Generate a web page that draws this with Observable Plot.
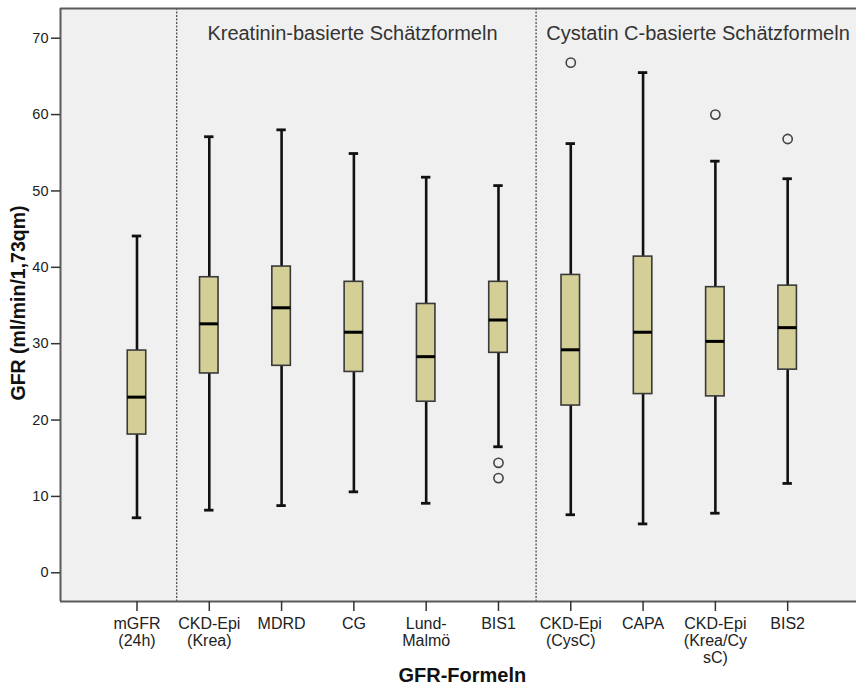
<!DOCTYPE html>
<html>
<head>
<meta charset="utf-8">
<script src="https://cdn.jsdelivr.net/npm/d3@7"></script>
<script src="https://cdn.jsdelivr.net/npm/@observablehq/plot@0.6"></script>
<style>
  html, body { margin: 0; padding: 0; background: #fff; overflow: hidden; }
  svg { display: block; }
</style>
</head>
<body>
<div id="chart"></div>
<script>
// ---- Data ----
const categories = ["mGFR\n(24h)", "CKD-Epi\n(Krea)", "MDRD", "CG", "Lund-\nMalmö", "BIS1", "CKD-Epi\n(CysC)", "CAPA", "CKD-Epi\n(Krea/Cy\nsC)", "BIS2"];
const whiskerLow  = [7.2, 8.2, 8.8, 10.6, 9.1, 16.5, 7.6, 6.4, 7.8, 11.7];
const q1          = [18.1, 26.1, 27.1, 26.3, 22.4, 28.8, 21.9, 23.4, 23.1, 26.6];
const median      = [23.0, 32.6, 34.7, 31.5, 28.3, 33.1, 29.2, 31.5, 30.3, 32.1];
const q3          = [29.1, 38.7, 40.1, 38.1, 35.2, 38.1, 39.0, 41.4, 37.4, 37.6];
const whiskerHigh = [44.1, 57.1, 58.0, 54.9, 51.8, 50.7, 56.2, 65.5, 53.9, 51.6];
const outlierCategory = [5, 5, 6, 8, 9];
const outlierValue    = [14.4, 12.4, 66.8, 60.0, 56.8];
const sectionLabels = ["Kreatinin-basierte Schätzformeln", "Cystatin C-basierte Schätzformeln"];
const sectionCenters = [2.98, 7.76];
const dividers = [0.55, 5.52];
const yTicks = [0, 10, 20, 30, 40, 50, 60, 70];
const xTitle = "GFR-Formeln";
const yTitle = "GFR (ml/min/1,73qm)";

// ---- Tables built from the arrays ----
const boxes = categories.map((c, i) => ({
  i, label: c, lo: whiskerLow[i], q1: q1[i], med: median[i], q3: q3[i], hi: whiskerHigh[i]
}));
const outliers = outlierCategory.map((c, k) => ({i: c, v: outlierValue[k]}));

const xDomain = [-1.058, 9.952];
const yDomain = [-3.76, 73.89];
const halfBox = 0.128;
const halfCap = 0.065;
const font = "'Liberation Sans', Arial, sans-serif";

const chart = Plot.plot({
  width: 856,
  height: 693,
  marginLeft: 60,
  marginRight: 0,
  marginTop: 8,
  marginBottom: 92,
  style: {fontFamily: font, background: "#fff", overflow: "visible"},
  x: {type: "linear", domain: xDomain, axis: null},
  y: {domain: yDomain, axis: null},
  marks: [
    Plot.frame({fill: "#f0f0f0"}),
    // section dividers
    Plot.ruleX(dividers, {stroke: "#222", strokeWidth: 1, strokeDasharray: "2,1.5"}),
    // section labels
    Plot.text(sectionLabels, {
      x: (d, k) => sectionCenters[k], text: d => d, frameAnchor: "top", lineAnchor: "top",
      textAnchor: "middle", dy: 17, fontSize: 20, fill: "#333", letterSpacing: "0.6px"
    }),
    // whiskers
    Plot.ruleX(boxes, {x: "i", y1: "lo", y2: "q1", stroke: "#111", strokeWidth: 2.6}),
    Plot.ruleX(boxes, {x: "i", y1: "q3", y2: "hi", stroke: "#111", strokeWidth: 2.6}),
    Plot.ruleY(boxes, {y: "lo", x1: d => d.i - halfCap, x2: d => d.i + halfCap, stroke: "#111", strokeWidth: 2.8}),
    Plot.ruleY(boxes, {y: "hi", x1: d => d.i - halfCap, x2: d => d.i + halfCap, stroke: "#111", strokeWidth: 2.8}),
    // boxes
    Plot.rect(boxes, {x1: d => d.i - halfBox, x2: d => d.i + halfBox, y1: "q1", y2: "q3",
      fill: "#d3cf96", stroke: "#3a3a3a", strokeWidth: 1.6}),
    // medians
    Plot.ruleY(boxes, {y: "med", x1: d => d.i - halfBox, x2: d => d.i + halfBox, stroke: "#000", strokeWidth: 3}),
    // outliers
    Plot.dot(outliers, {x: "i", y: "v", r: 4.6, stroke: "#444", strokeWidth: 1.6, fill: "none"}),
    // frame edges (right edge lies outside the picture)
    Plot.ruleY([yDomain[1]], {stroke: "#5a5a5a", strokeWidth: 2}),
    Plot.ruleY([yDomain[0]], {stroke: "#5a5a5a", strokeWidth: 2}),
    Plot.ruleX([xDomain[0]], {stroke: "#5a5a5a", strokeWidth: 2}),
    // axes
    Plot.axisY({ticks: yTicks, tickSize: 9, tickPadding: 3, fontSize: 14.5, fill: "#222", stroke: "#333", strokeWidth: 1.5, label: null}),
    Plot.axisX({ticks: d3.range(categories.length), tickFormat: i => categories[i], tickSize: 10, tickPadding: 6,
      fontSize: 16, lineHeight: 1.04, letterSpacing: "0.4px", fill: "#222", stroke: "#333", strokeWidth: 1.5, label: null}),
    // axis titles
    Plot.text([xTitle], {x: 4.5, frameAnchor: "bottom", dy: 80, text: d => d, textAnchor: "middle", fontSize: 20, fontWeight: "bold", fill: "#111", letterSpacing: "0.7px"}),
    Plot.text([yTitle], {frameAnchor: "left", dx: -42, dy: -2, rotate: -90, textAnchor: "middle", text: d => d, fontSize: 19.5, fontWeight: "bold", fill: "#111", letterSpacing: "0.7px"})
  ]
});
document.getElementById("chart").appendChild(chart);
</script>
</body>
</html>
